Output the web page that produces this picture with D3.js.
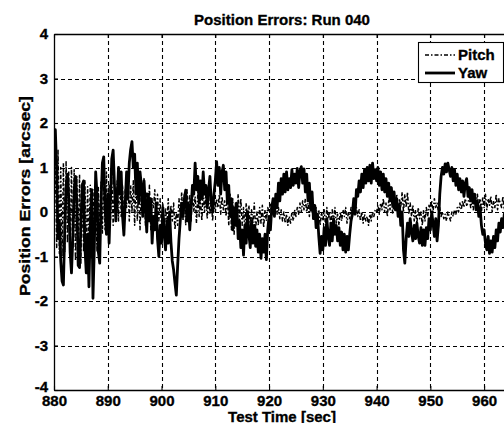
<!DOCTYPE html>
<html>
<head>
<meta charset="utf-8">
<script src="https://cdn.jsdelivr.net/npm/d3@7/dist/d3.min.js"></script>
<style>
html,body{margin:0;padding:0;background:#fff;}
svg{display:block;font-family:"Liberation Sans",Arial,sans-serif;font-weight:bold;}
</style>
</head>
<body>
<script>
// ---- data ----
const chartTitle = "Position Errors: Run 040";
const xLabel = "Test Time [sec]";
const yLabel = "Position Errors [arcsec]";
const xTicks = [880, 890, 900, 910, 920, 930, 940, 950, 960];
const yTicks = [-4, -3, -2, -1, 0, 1, 2, 3, 4];
const seriesNames = ["Pitch", "Yaw"];
const sampleStart = 880;   // seconds
const sampleStep = 0.25;   // seconds between samples

const yawValues = [
 1.70, 1.85, 0.90,-0.60,-0.20,-1.10,-1.55,-1.64,-0.40, 0.60, 0.85, 0.30,-0.90,-1.37,-0.60, 0.50, 0.80, 0.20,-1.20,-1.25,
-0.30, 0.60, 0.70,-0.80,-1.37,-0.50,-1.68,-0.30, 0.50,-1.94,-0.80, 0.90, 0.40,-0.90,-1.15, 0.20, 1.10, 1.24, 0.10,-0.50,
 0.40,-0.70, 0.30, 1.20, 1.39, 0.60,-0.20, 0.30, 1.00, 0.40, 0.90,-0.10,-0.52, 0.20, 0.90, 0.30, 1.10, 1.40, 1.58, 1.00,
 1.30, 0.40, 1.10, 0.20, 0.90, 0.60,-0.10, 0.70, 0.10,-0.45, 0.40,-0.20, 0.30,-0.70,-0.10,-0.40, 0.20,-0.60,-1.00,-0.30,
-0.70, 0.10,-0.50,-0.85,-0.20,-0.70, 0.00,-0.67,-1.10,-1.30,-1.60,-1.87,-1.20,-0.60,-0.18, 0.20,-0.10, 0.30, 0.49,-0.20,
 0.20,-0.40, 0.10, 0.60, 0.40, 1.10, 0.50, 0.80, 0.20, 0.70, 0.30, 0.90, 0.40, 0.60, 0.10, 0.50, 0.80, 0.20, 0.00, 0.40,
 0.70, 1.13, 0.60, 1.00, 0.40, 0.90, 1.05, 0.50, 0.90, 0.20, 0.60,-0.10, 0.30,-0.40, 0.10,-0.30, 0.20,-0.60,-0.20,-0.80,
-0.40,-0.97,-0.30,-0.70, 0.00,-0.50,-0.80,-0.20,-0.70,-0.30,-0.77,-0.40,-0.90,-0.50,-1.04,-0.60,-0.90,-0.50,-1.07,-0.40,
-0.10,-0.40, 0.10, 0.30,-0.10, 0.40, 0.10, 0.65, 0.25, 0.75, 0.40, 0.85, 0.45, 0.90, 0.50, 0.75, 0.55, 0.95, 0.60, 0.85,
 0.65, 0.98, 0.55, 0.92, 1.02, 0.65, 0.97, 0.45, 0.85, 0.25, 0.65, 0.05, 0.45,-0.15, 0.15,-0.35,-0.05,-0.55,-0.93,-0.55,
-0.85,-0.35,-0.75,-0.15,-0.55,-0.75,-0.25,-0.65,-0.15,-0.50,-0.30,-0.65,-0.35,-0.75,-0.45,-0.85,-0.50,-0.90,-0.55,-0.85,
-0.50,-0.20,-0.05, 0.30,-0.05, 0.50, 0.35, 0.70, 0.45, 0.85, 0.55, 0.95, 0.65, 1.00, 0.70, 1.05, 0.65, 1.10, 0.75, 0.95,
 0.70, 1.00, 0.60, 0.90, 0.50, 0.85, 0.45, 0.75, 0.35, 0.65, 0.25, 0.55, 0.15, 0.45, 0.05, 0.30,-0.10, 0.15,-0.30, 0.00,
-0.85,-1.15,-0.60,-0.25,-0.55,-0.15,-0.45,-0.65,-0.30,-0.60,-0.25,-0.55,-0.70,-0.35,-0.75,-0.40,-0.75,-0.35,-0.60,-0.15,
-0.40, 0.00,-0.25,-0.55,-0.15,-0.65,-0.30, 0.40, 0.80, 1.00, 0.85, 1.08, 0.90, 1.10, 0.95, 0.80, 1.00, 0.70, 0.95, 0.60,
 0.85, 0.50, 0.75, 0.45, 0.70, 0.35, 0.65, 0.75, 0.35, 0.55, 0.25, 0.50, 0.20, 0.40, 0.05, 0.25,-0.10, 0.10,-0.30,-0.50,
-0.40,-0.70,-0.85,-0.55,-0.93,-0.65,-0.90,-0.55,-0.80,-0.40,-0.65,-0.25,-0.45,-0.15,-0.35,-0.05,-0.25, 0.05,-0.15, 0.10, 0.00
];

const pitchValues = [
 0.20, 1.20,-0.80, 1.39,-0.93, 1.00,-1.00, 1.10,-0.90, 1.13,-0.70, 0.90,-1.00, 1.00,-0.80, 0.95,-1.10, 0.80,-0.90, 0.85,
-1.15, 0.64,-0.90, 0.70,-1.00, 0.57,-0.80, 0.60,-1.05, 0.50,-0.70, 0.40,-0.90, 0.55,-0.60, 0.70,-0.50, 0.80,-0.40, 0.90,
-0.30, 0.60,-0.20, 0.80,-0.30, 0.50, 0.00, 0.70,-0.20, 0.90,-0.10, 0.60,-0.30, 0.50, 0.10, 0.80,-0.20, 0.60, 0.00, 0.70,
-0.30, 0.80,-0.20, 0.60,-0.40, 0.50, 0.00, 0.75,-0.30, 0.45,-0.20, 0.60,-0.40, 0.30, 0.10, 0.50,-0.30, 0.40,-0.20, 0.30,
-0.40, 0.20,-0.50, 0.10,-0.30, 0.30,-0.45, 0.15,-0.20, 0.20,-0.40, 0.00,-0.30, 0.30,-0.10, 0.45,-0.20, 0.40,-0.30, 0.50,
-0.10, 0.40,-0.20, 0.50, 0.00, 0.35,-0.25, 0.45,-0.10, 0.30,-0.20, 0.50, 0.00, 0.40,-0.15, 0.35,-0.05, 0.30,-0.20, 0.25,
 0.00, 0.30, 0.10, 0.40,-0.05, 0.35, 0.05, 0.25,-0.10, 0.45,-0.30, 0.40,-0.40, 0.30,-0.50, 0.20,-0.35, 0.40,-0.20, 0.30,
-0.30, 0.10,-0.40, 0.20,-0.20, 0.15,-0.35, 0.05,-0.25, 0.20,-0.40, 0.00,-0.30, 0.10,-0.25, 0.15,-0.35, 0.05,-0.20, 0.10,
 0.00, 0.20,-0.10, 0.15, 0.00, 0.25,-0.05, 0.10,-0.15, 0.05,-0.20, 0.00,-0.25,-0.05,-0.30,-0.10,-0.25, 0.00,-0.20, 0.05,
-0.10, 0.10,-0.05, 0.20, 0.00, 0.25, 0.05, 0.30, 0.00, 0.20,-0.10, 0.25, 0.00, 0.15,-0.15, 0.10,-0.20, 0.05,-0.30, 0.00,
-0.20, 0.05,-0.30, 0.10,-0.15, 0.00,-0.35, 0.05,-0.20, 0.10,-0.25,-0.05,-0.30, 0.00,-0.20, 0.05,-0.10, 0.10,-0.25, 0.00,
-0.15, 0.10,-0.10, 0.15, 0.00, 0.10,-0.10, 0.05,-0.20, 0.00,-0.25,-0.05,-0.20,-0.10,-0.30,-0.05,-0.20, 0.00,-0.10, 0.05,
 0.00, 0.15,-0.05, 0.20, 0.05, 0.30, 0.00, 0.20,-0.10, 0.25, 0.05, 0.35,-0.05, 0.20, 0.10, 0.40, 0.00, 0.30, 0.10, 0.45,
 0.00, 0.40, 0.10, 0.45,-0.05, 0.20,-0.10, 0.15,-0.20, 0.05,-0.25, 0.10,-0.15, 0.00,-0.30, 0.05,-0.20, 0.10,-0.10, 0.15,
 0.05, 0.25, 0.00, 0.30, 0.10, 0.20, 0.00, 0.10,-0.10, 0.00,-0.15,-0.05,-0.20, 0.00,-0.10,-0.20, 0.00,-0.10, 0.05,-0.05,
 0.10, 0.00, 0.20, 0.05, 0.25, 0.10, 0.30, 0.15, 0.20, 0.35, 0.10, 0.25, 0.05, 0.30, 0.15, 0.40, 0.10, 0.30, 0.00, 0.35,
 0.10, 0.40, 0.05, 0.30, 0.15, 0.35, 0.00, 0.25, 0.10, 0.40, 0.05, 0.30, 0.20, 0.10, 0.35, 0.05, 0.25, 0.15, 0.30, 0.10, 0.20
];

// ---- layout ----
const W = 504, H = 423;
const m = {left: 54, top: 34, right: 511, bottom: 390};

const svg = d3.select("body").append("svg").attr("width", W).attr("height", H);
svg.append("rect").attr("width", W).attr("height", H).attr("fill", "#fff");

const x = d3.scaleLinear().domain([880, 965]).range([m.left, m.right]);
const y = d3.scaleLinear().domain([-4, 4]).range([m.bottom, m.top]);

svg.append("defs").append("clipPath").attr("id", "plotclip")
  .append("rect").attr("x", m.left).attr("y", m.top)
  .attr("width", m.right - m.left).attr("height", m.bottom - m.top);

// grid
const grid = svg.append("g").attr("stroke", "#000").attr("stroke-width", 1.1).attr("stroke-dasharray", "4,3");
grid.selectAll("line.vx").data(xTicks.filter(d => d > 880)).join("line")
  .attr("x1", d => Math.round(x(d)) + 0.5).attr("x2", d => Math.round(x(d)) + 0.5)
  .attr("y1", m.top).attr("y2", m.bottom);
grid.selectAll("line.hy").data(yTicks.filter(d => d > -4 && d < 4)).join("line")
  .attr("y1", d => Math.round(y(d)) + 0.5).attr("y2", d => Math.round(y(d)) + 0.5)
  .attr("x1", m.left).attr("x2", m.right);

// axes (inward ticks)
const fs = 15;
const fmt = d => String(d);   // plain hyphen-minus as in the reference
const gx = svg.append("g").attr("transform", `translate(0,${m.bottom})`)
  .call(d3.axisBottom(x).tickValues(xTicks).tickFormat(fmt).tickSizeInner(-4).tickSizeOuter(0).tickPadding(5));
const gxTop = svg.append("g").attr("transform", `translate(0,${m.top})`)
  .call(d3.axisTop(x).tickValues(xTicks).tickSizeInner(-4).tickSizeOuter(0).tickFormat(""));
const gy = svg.append("g").attr("transform", `translate(${m.left},0)`)
  .call(d3.axisLeft(y).tickValues(yTicks).tickFormat(fmt).tickSizeInner(-4).tickSizeOuter(0).tickPadding(6));
[gx, gxTop, gy].forEach(g => {
  g.select(".domain").attr("stroke", "#000").attr("stroke-width", 1.3);
  g.selectAll(".tick line").attr("stroke", "#000").attr("stroke-width", 1.1);
  g.selectAll("text").attr("fill", "#000").attr("stroke", "#000").attr("stroke-width", 0.35)
    .style("font-size", fs + "px")
    .style("font-weight", "bold").style("font-family", "'Liberation Sans',Arial,sans-serif");
});
gy.selectAll(".tick").filter(d => d === -4).select("text").attr("dy", "0.1em");

// right border
svg.append("line").attr("x1", m.right).attr("x2", m.right).attr("y1", m.top).attr("y2", m.bottom)
  .attr("stroke", "#000").attr("stroke-width", 1.3);

// lines
const plot = svg.append("g").attr("clip-path", "url(#plotclip)");
const line = d3.line().x((d, i) => x(sampleStart + i * sampleStep)).y(d => y(d));
plot.append("path").datum(pitchValues).attr("d", line)
  .attr("fill", "none").attr("stroke", "#000").attr("stroke-width", 1.5)
  .attr("stroke-dasharray", "4,2,1.5,2").attr("stroke-linejoin", "round");
plot.append("path").datum(yawValues).attr("d", line)
  .attr("fill", "none").attr("stroke", "#000").attr("stroke-width", 2.8)
  .attr("stroke-linejoin", "round");

// labels
const txt = sel => sel.attr("fill", "#000").attr("stroke", "#000").attr("stroke-width", 0.35)
  .style("font-size", fs + "px");
svg.append("text").attr("x", 282).attr("y", 25)
  .attr("text-anchor", "middle").call(txt).text(chartTitle);
svg.append("text").attr("x", 282).attr("y", 421.5)
  .attr("text-anchor", "middle").call(txt).text(xLabel);
svg.append("text").attr("transform", "translate(30,196) rotate(-90)")
  .attr("text-anchor", "middle").attr("textLength", 200).attr("lengthAdjust", "spacingAndGlyphs")
  .call(txt).text(yLabel);

// legend
const lg = svg.append("g");
lg.append("rect").attr("x", 418.5).attr("y", 42.5).attr("width", 85).attr("height", 40)
  .attr("fill", "#fff").attr("stroke", "#000").attr("stroke-width", 1.1);
const legendStyles = [
  {w: 1.5, dash: "4,2,1.5,2"},
  {w: 2.8, dash: null}
];
seriesNames.forEach((name, i) => {
  const yy = 55 + i * 18;
  lg.append("line").attr("x1", 425).attr("x2", 455).attr("y1", yy).attr("y2", yy)
    .attr("stroke", "#000").attr("stroke-width", legendStyles[i].w)
    .attr("stroke-dasharray", legendStyles[i].dash);
  lg.append("text").attr("x", 458).attr("y", yy).attr("dy", "0.36em").call(txt).text(name);
});
</script>
</body>
</html>
